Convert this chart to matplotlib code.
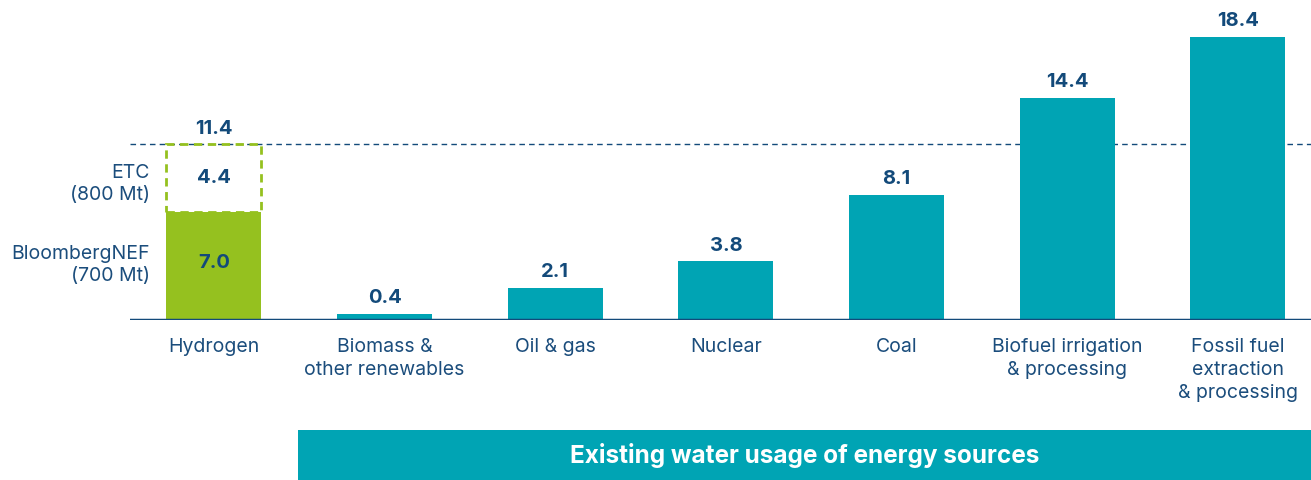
import matplotlib
matplotlib.use("Agg")
import matplotlib.pyplot as plt
from matplotlib.patches import Rectangle

categories = ["Hydrogen", "Biomass &\nother renewables", "Oil & gas", "Nuclear", "Coal",
              "Biofuel irrigation\n& processing", "Fossil fuel\nextraction\n& processing"]
values = [7.0, 0.4, 2.1, 3.8, 8.1, 14.4, 18.4]
etc_extra = 4.4
hydrogen_total = 11.4
left_labels = ["ETC\n(800 Mt)", "BloombergNEF\n(700 Mt)"]
banner_text = "Existing water usage of energy sources"

TEAL = "#00A4B4"
GREEN = "#95C11F"
NAVY = "#134A7A"
TXT = "#1B4D7C"

plt.rcParams['font.family'] = ['Inter', 'DejaVu Sans']

W, H = 1311, 480
fig = plt.figure(figsize=(W / 100, H / 100), dpi=100)
ax = fig.add_axes([130 / W, 160 / H, 1 - 130 / W, 320 / H])
ax.set_xlim(-0.492, 6.428)
ax.set_ylim(0, 320 / 15.4)
ax.axis("off")

bw = 0.557
x = list(range(len(categories)))
colors = [GREEN] + [TEAL] * (len(categories) - 1)
ax.bar(x, values, width=bw, color=colors, zorder=2)

# ETC dashed box
ax.add_patch(Rectangle((x[0] - bw / 2, values[0]), bw, etc_extra, fill=False,
                       edgecolor=GREEN, linestyle=(0, (3, 2)), linewidth=2, zorder=3))

# reference dashed line
ax.axhline(hydrogen_total, color=NAVY, linestyle=(0, (4, 3)), linewidth=1, zorder=1)
# baseline
ax.axhline(0, color=NAVY, linewidth=2.5, zorder=4)

fs_val = 14.5
for xi, v in zip(x[1:], values[1:]):
    ax.text(xi, v + 0.45, f"{v:.1f}", ha="center", va="bottom", fontsize=fs_val,
            fontweight="bold", color=NAVY)
ax.text(x[0], hydrogen_total + 0.45, f"{hydrogen_total:.1f}", ha="center", va="bottom",
        fontsize=fs_val, fontweight="bold", color=NAVY)
ax.text(x[0], values[0] + etc_extra / 2, f"{etc_extra:.1f}", ha="center", va="center",
        fontsize=fs_val, fontweight="bold", color=NAVY)
ax.text(x[0], values[0] / 2 + 0.2, f"{values[0]:.1f}", ha="center", va="center",
        fontsize=fs_val, fontweight="bold", color=NAVY)

for xi, c in zip(x, categories):
    ax.text(xi, -1.2, c, ha="center", va="top", fontsize=14, color=TXT,
            linespacing=1.35)

# left labels
fig.text(150 / W, 1 - 184 / H, left_labels[0], ha="right", va="center", fontsize=14,
         color=TXT, linespacing=1.35)
fig.text(150 / W, 1 - 265 / H, left_labels[1], ha="right", va="center", fontsize=14,
         color=TXT, linespacing=1.35)

# banner
fig.patches.append(Rectangle((298 / W, 0), 1 - 298 / W, 50 / H, transform=fig.transFigure,
                             facecolor=TEAL, edgecolor="none"))
fig.text((298 + W) / 2 / W, 24 / H, banner_text, ha="center", va="center", fontsize=17.5,
         fontweight="bold", color="white")

fig.savefig("out.png", dpi=100)
